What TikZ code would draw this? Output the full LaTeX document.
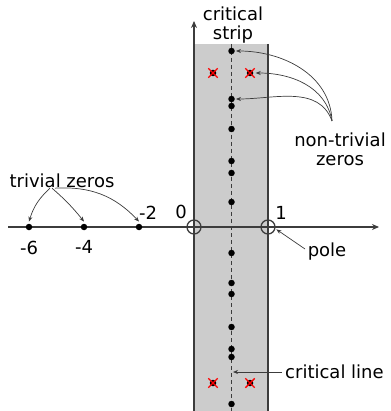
\documentclass[tikz,border=0pt]{standalone}
\usepackage{fontspec}
\setmainfont{DejaVu Sans}
\usepackage{tikz}
\usetikzlibrary{positioning,arrows.meta,calc,shapes.misc}
\definecolor{StripGray}{RGB}{204,204,204}
\definecolor{AxisGray}{RGB}{60,60,60}

\begin{document}
\begin{tikzpicture}[x=1pt,y=-1pt,
zero/.style={circle,fill=black,inner sep=0pt,minimum size=6.5pt},
crs/.style={cross out,draw=red,line width=1.4pt,inner sep=0pt,minimum size=8pt},
ring/.style={circle,draw=AxisGray,line width=1.3pt,inner sep=0pt,minimum size=14pt},
lbl/.style={font=\fontsize{18}{20}\selectfont,inner sep=0pt},
ax/.style={AxisGray,line width=1.8pt},
ptr/.style={-{Stealth[length=5pt,width=4pt]},line width=0.7pt,AxisGray}
]
\useasboundingbox (0,0) rectangle (390,411);
% critical strip
\fill[StripGray] (194,44) rectangle (268,411);
\draw[AxisGray,dashed,line width=0.8pt,dash pattern=on 4pt off 3pt] (231,44) -- (231,411);
\draw[ax] (268,44) -- (268,411);
% axes
\coordinate (xl) at (8,227);
\coordinate (xr) at (379,227);
\coordinate (yb) at (194,411);
\coordinate (yt) at (194,21);
\draw[ax,-{Stealth[length=7pt,width=6pt]}] (yb) -- (yt);
\draw[ax,-{Stealth[length=7pt,width=6pt]}] (xl) -- (xr);
\node[ring] (o0) at (194,227) {};
\node[ring] (o1) at (268,227) {};
\node[lbl] (l0) at (181,212) {0};
\node[lbl] (l1) at (281,213) {1};
% trivial zeros
\node[zero] (t6) at (29,227) {};
\node[zero] (t4) at (84,227) {};
\node[zero] (t2) at (139,227) {};
\node[lbl] (l6) at (29,248) {-6};
\node[lbl] (l4) at (84,247) {-4};
\node[lbl] (l2) at (148,213) {-2};
\node[lbl] (tz) at (62,181) {trivial zeros};
\draw[ptr] ([xshift=-12pt]tz.south) to[bend right=15] ([yshift=2pt]t6.north);
\draw[ptr] ([xshift=-10pt]tz.south) to[bend left=5] ([yshift=2pt]t4.north);
\draw[ptr] ([xshift=-7pt]tz.south) to[bend left=25] ([yshift=2pt]t2.north);
% zeros on the critical line
\foreach \n/\y in {a/51,b/99,c/106,d/129,e/161,f/173,g/202,h/253,i/283,j/294,k/327,m/349,n/357,p/404}
  \node[zero] (z\n) at (231.5,\y) {};
% zeros off the line
\foreach \n/\x/\y in {l1/213/73,r1/250/73,l2/213/383,r2/250/383}{
  \node[zero] (x\n) at (\x,\y) {};
  \node[crs] (c\n) at (x\n) {};
}
% labels
\node[lbl,align=center] (cs) at (233,25) {critical\\[-1pt]strip};
\node[lbl,align=center] (ntz) at (340,149) {non-trivial\\[-1pt]zeros};
\coordinate (nt) at (332,121);
\draw[ptr] (nt) to[out=92,in=0] ([xshift=1pt]za.east);
\draw[ptr] (nt) to[out=100,in=0] ([xshift=1pt]cr1.east);
\draw[ptr] (nt) to[out=110,in=0] ([xshift=1pt]zb.east);
\node[lbl] (pl) at (327,252) {pole};
\coordinate (pa) at (305,249);
\draw[ptr] (pa) -- ([xshift=3pt,yshift=3pt]o1.south east);
\node[lbl,anchor=west] (cl) at (285,372) {critical line};
\coordinate (cld) at (233,372);
\draw[ptr] ([xshift=-3pt]cl.west) -- (cld);
\end{tikzpicture}
\end{document}
